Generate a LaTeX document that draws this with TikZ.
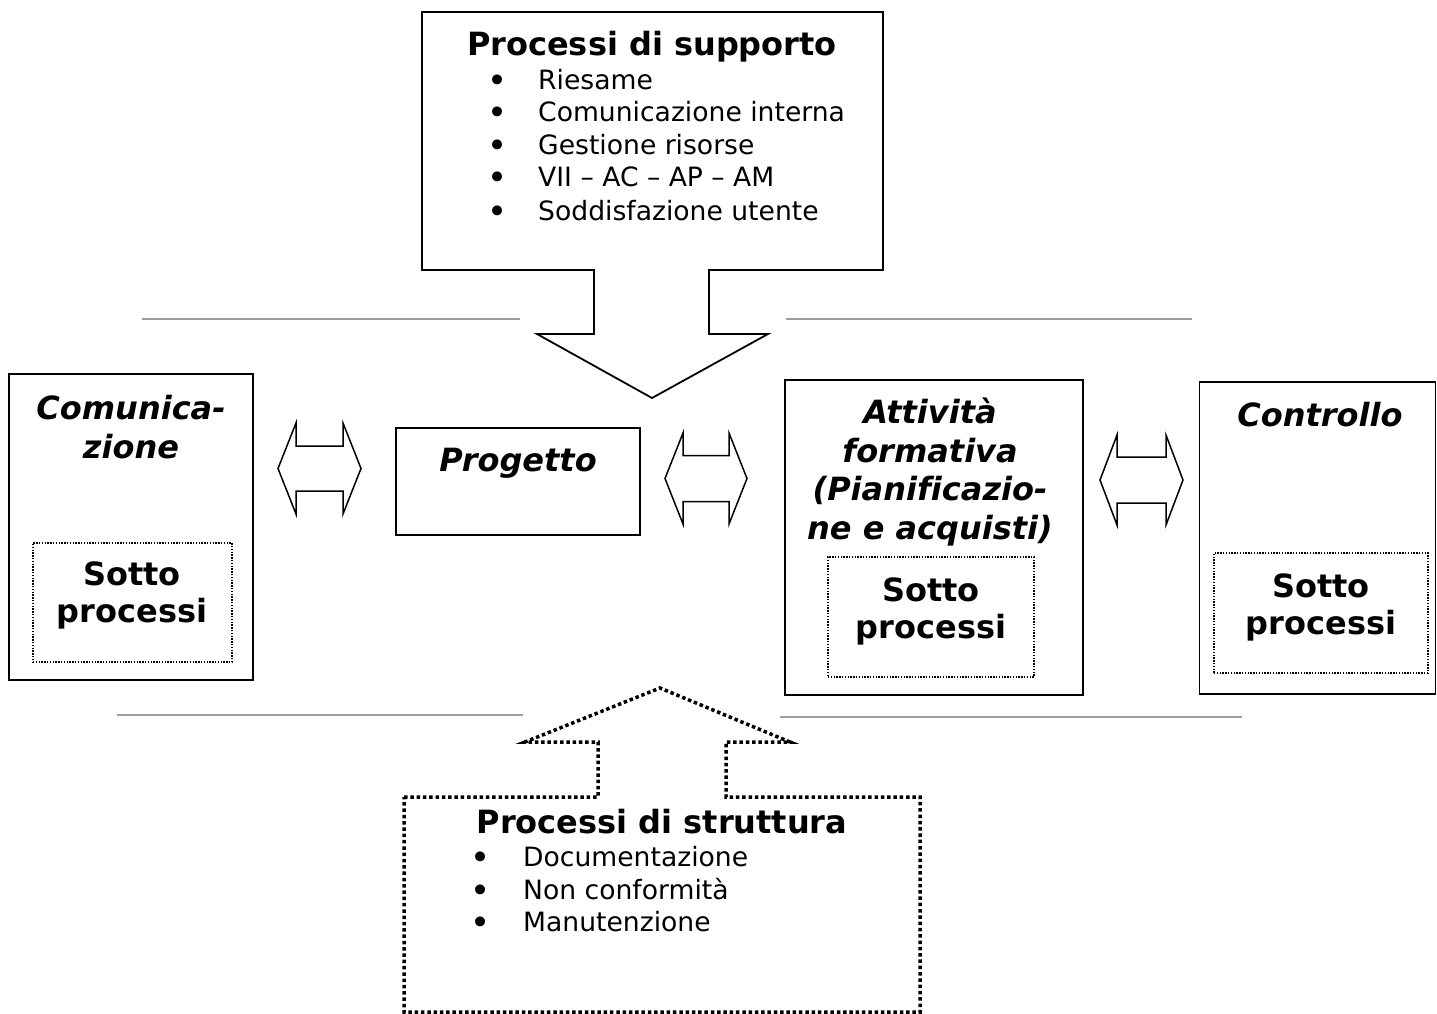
\documentclass[tikz,border=0pt]{standalone}
\usepackage{fontspec}
\setmainfont[Ligatures=NoCommon]{DejaVu Sans}
\newcommand\HeadFont{\fontsize{32}{38.5}\selectfont\bfseries\itshape}
\newcommand\SubFont{\fontsize{32}{37}\selectfont\bfseries}
\newcommand\TitleFont{\fontsize{32}{38}\selectfont\bfseries}
\newcommand\ItemFont{\fontsize{26.6}{32}\selectfont}
\newcommand\BulFont{\fontsize{34}{38}\selectfont}
\newcommand\DblArrowShape[6]{% x1 x2 yc hw hh sh
  \draw[dblarrow] (#1,#3) -- ({#1+#4},{#3-#5}) -- ({#1+#4},{#3-#6}) -- ({#2-#4},{#3-#6})
    -- ({#2-#4},{#3-#5}) -- (#2,#3) -- ({#2-#4},{#3+#5}) -- ({#2-#4},{#3+#6})
    -- ({#1+#4},{#3+#6}) -- ({#1+#4},{#3+#5}) -- cycle;}
\begin{document}
\begin{tikzpicture}[x=1pt,y=-1pt,
  box/.style={draw=black,line width=1.8pt,inner sep=0pt},
  inbox/.style={draw=black,line width=1.4pt,dash pattern=on 1.4pt off 1.4pt,inner sep=0pt},
  gline/.style={draw=black!38,line width=1.5pt},
  dblarrow/.style={draw=black,line width=1.5pt,fill=white,line join=miter},
  callout/.style={draw=black,line width=1.8pt,fill=white,line join=miter},
  dcallout/.style={draw=black,line width=3.5pt,dash pattern=on 3.5pt off 2.8pt,fill=white},
  txt/.style={inner sep=0pt,align=center},
  item/.style={inner sep=0pt,anchor=west,font=\ItemFont,text height=0.75em,text depth=0.25em},
  bul/.style={inner sep=0pt,font=\BulFont}]
\useasboundingbox (0,0) rectangle (1437,1014);
\fill[white] (0,0) rectangle (1437,1014);

% gray separator lines
\coordinate (g1a) at (142,319); \coordinate (g1b) at (520,319);
\coordinate (g2a) at (786,319); \coordinate (g2b) at (1192,319);
\coordinate (g3a) at (117,715); \coordinate (g3b) at (523,715);
\coordinate (g4a) at (780,717); \coordinate (g4b) at (1242,717);
\draw[gline] (g1a) -- (g1b);
\draw[gline] (g2a) -- (g2b);
\draw[gline] (g3a) -- (g3b);
\draw[gline] (g4a) -- (g4b);

% top callout
\draw[callout] (422,12) -- (883,12) -- (883,270) -- (709,270) -- (709,334) -- (768,334)
  -- (652,398) -- (537,334) -- (594,334) -- (594,270) -- (422,270) -- cycle;
\node[txt,font=\TitleFont] (supT) at (652,47) {Processi di supporto};
\foreach \n/\y/\t in {1/80/Riesame,2/112/Comunicazione interna,3/145/Gestione risorse,4/177/VII – AC – AP – AM,5/211/Soddisfazione utente}{
  \node[bul] (sb\n) at (498,{\y+4}) {•};
  \node[item] (si\n) at (538,{\y+7}) {\t};
}

% bottom dotted callout
\draw[dcallout] (404,797) -- (598,797) -- (598,742) -- (525,742) -- (660,688) -- (790,742)
  -- (726,742) -- (726,797) -- (920,797) -- (920,1012) -- (404,1012) -- cycle;
\node[txt,font=\TitleFont] (strT) at (662,822) {Processi di struttura};
\foreach \n/\y/\t in {1/857/Documentazione,2/890/Non conformità,3/922/Manutenzione}{
  \node[bul] (tb\n) at (481,{\y+4}) {•};
  \node[item] (ti\n) at (523,{\y+7}) {\t};
}

% Comunicazione
\node[box,minimum width=244pt,minimum height=306pt] (comm) at (131,527) {};
\node[txt,font=\HeadFont] (commT) at (131,427) {Comunica-\\zione};
\node[inbox,minimum width=199pt,minimum height=119pt] (commIn) at (132.5,602.5) {};
\node[txt,font=\SubFont] (commS) at (132,595) {Sotto\\processi};

% Progetto
\node[box,minimum width=244pt,minimum height=107pt] (prog) at (518,481.5) {};
\node[txt,font=\HeadFont] (progT) at (518,463) {Progetto};

% Attivita formativa
\node[box,minimum width=298pt,minimum height=315pt] (att) at (934,537.5) {};
\node[txt,font=\HeadFont] (attT) at (930,472) {Attività\\formativa\\(Pianificazio-\\ne e acquisti)};
\node[inbox,minimum width=206pt,minimum height=120pt] (attIn) at (931,617) {};
\node[txt,font=\SubFont] (attS) at (931,611) {Sotto\\processi};

% Controllo
\node[box,minimum width=236pt,minimum height=312pt] (ctr) at (1317.5,538) {};
\node[txt,font=\HeadFont] (ctrT) at (1320,415) {Controllo};
\node[inbox,minimum width=214pt,minimum height=120pt] (ctrIn) at (1321,613) {};
\node[txt,font=\SubFont] (ctrS) at (1321,607) {Sotto\\processi};

% double arrows
\DblArrowShape{278}{361}{468.5}{18}{45.5}{22.5}
\DblArrowShape{665}{747}{478.5}{18}{45.5}{23}
\DblArrowShape{1100}{1183}{480}{17}{45}{23}
\end{tikzpicture}
\end{document}
